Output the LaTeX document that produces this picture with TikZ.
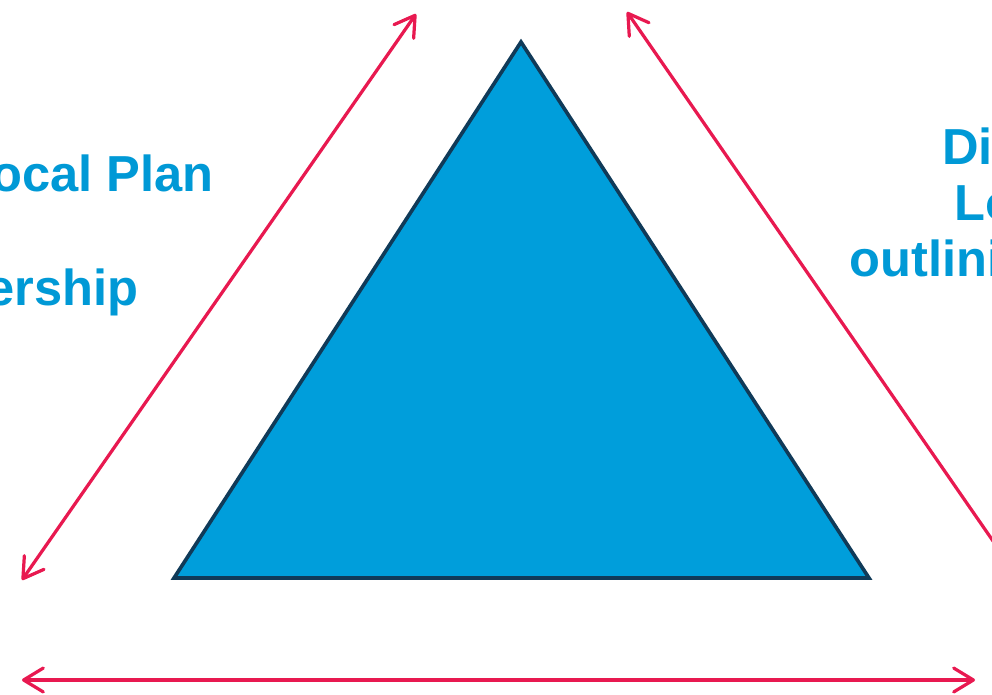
\documentclass[tikz,border=0pt]{standalone}
\usepackage{fontspec}
\setmainfont{Liberation Sans}
\usepackage{xcolor}
\usetikzlibrary{arrows.meta}
\definecolor{skyblue}{RGB}{0,158,219}
\definecolor{textblue}{RGB}{0,153,214}
\definecolor{navyedge}{RGB}{16,58,88}
\definecolor{crimson}{RGB}{232,25,80}

\begin{document}
\begin{tikzpicture}[
  x=0.025cm, y=-0.025cm,
  arr/.style={{Straight Barb[length=14pt, width=17pt, round]}-{Straight Barb[length=14pt, width=17pt, round]},
              draw=crimson, line width=2.3pt},
  lbl/.style={text=textblue, font=\fontsize{36}{40}\selectfont\bfseries, inner sep=0pt},
]
  \useasboundingbox (0,0) rectangle (992,695);
  \clip (0,0) rectangle (992,695);

  % Triangle corners
  \coordinate (apex) at (521,42);
  \coordinate (bl) at (174,578);
  \coordinate (br) at (869,578);
  \fill[skyblue, draw=navyedge, line width=2.6pt, line join=miter] (apex) -- (br) -- (bl) -- cycle;

  % Arrow ends
  \coordinate (ltop) at (416,14);
  \coordinate (lbot) at (22,580);
  \coordinate (rtop) at (627,12);
  \coordinate (rbot) at (1020,580);
  \coordinate (bleft) at (22,680);
  \coordinate (bright) at (975,680);

  \draw[arr] (lbot) -- (ltop);
  \draw[arr] (rtop) -- (rbot);
  \draw[arr] (bleft) -- (bright);

  % Labels, cut by the page edge
  \node[lbl, anchor=base east] (lplan) at (214,192) {Local Plan};
  \node[lbl, anchor=base east] (lship) at (139,306) {ership};
  \node[lbl, anchor=base west] (rdis) at (942,165) {Dis};
  \node[lbl, anchor=base west] (rlo) at (954,221) {Lo};
  \node[lbl, anchor=base west] (rout) at (849,277) {outlini};
\end{tikzpicture}
\end{document}
